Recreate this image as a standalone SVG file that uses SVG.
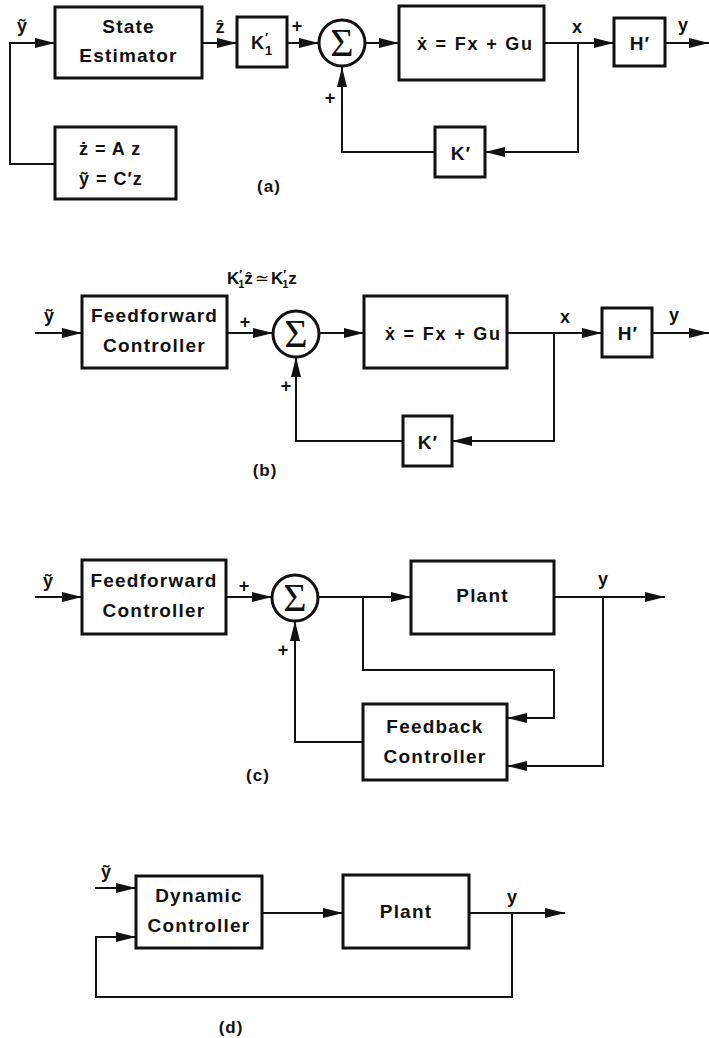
<svg xmlns="http://www.w3.org/2000/svg" width="709" height="1038" viewBox="0 0 709 1038">
<style>
text{font-family:"Liberation Sans",Arial,"DejaVu Sans",sans-serif;font-weight:bold;fill:#111}
.lbl{font-size:19px;letter-spacing:1.2px;text-anchor:middle}
.m{font-size:18px}
.mid{text-anchor:middle}
.sm{font-size:13px}
.box{fill:#fff;stroke:#111;stroke-width:3}
.sum{fill:#fff;stroke:#111;stroke-width:3}
.sig{font-family:"Liberation Serif","Times New Roman",serif;font-weight:normal;font-size:40px;text-anchor:middle}
.cap{font-size:17px;text-anchor:middle;letter-spacing:1px}
#connectors path{fill:none;stroke:#111;stroke-width:2}
</style>
<defs>
<marker id="arr" markerUnits="userSpaceOnUse" markerWidth="21" markerHeight="11" refX="20" refY="5.5" orient="auto">
<path d="M0,0.5 L20,5.5 L0,10.5 Z" fill="#111"/>
</marker>
</defs>
<g id="connectors">
<!-- (a) -->
<path d="M55,164 H10 V43 H55" marker-end="url(#arr)"/>
<path d="M202,43 H237" marker-end="url(#arr)"/>
<path d="M287,43 H319" marker-end="url(#arr)"/>
<path d="M365,43 H399" marker-end="url(#arr)"/>
<path d="M544,43 H614" marker-end="url(#arr)"/>
<path d="M665,43 H709" marker-end="url(#arr)"/>
<path d="M578,43 V152 H485" marker-end="url(#arr)"/>
<path d="M435,152 H342 V67" marker-end="url(#arr)"/>
<!-- (b) -->
<path d="M35,333 H82" marker-end="url(#arr)"/>
<path d="M227,333 H273" marker-end="url(#arr)"/>
<path d="M319,333 H364" marker-end="url(#arr)"/>
<path d="M507,333 H602" marker-end="url(#arr)"/>
<path d="M652,333 H709" marker-end="url(#arr)"/>
<path d="M554,333 V441 H452" marker-end="url(#arr)"/>
<path d="M403,441 H296 V357" marker-end="url(#arr)"/>
<!-- (c) -->
<path d="M35,597 H82" marker-end="url(#arr)"/>
<path d="M226,597 H272" marker-end="url(#arr)"/>
<path d="M318,597 H411" marker-end="url(#arr)"/>
<path d="M554,597 H665" marker-end="url(#arr)"/>
<path d="M363,597 V670 H554 V718 H507" marker-end="url(#arr)"/>
<path d="M603,597 V766 H507" marker-end="url(#arr)"/>
<path d="M363,742 H295 V621" marker-end="url(#arr)"/>
<!-- (d) -->
<path d="M95,888 H136" marker-end="url(#arr)"/>
<path d="M512,913 V997 H96 V937 H136" marker-end="url(#arr)"/>
<path d="M262,913 H343" marker-end="url(#arr)"/>
<path d="M469,913 H565" marker-end="url(#arr)"/>
</g>

<!-- ========== (a) ========== -->
<g id="a-state-estimator">
<rect class="box" x="55" y="7" width="147" height="71"/>
<text class="lbl" x="128.5" y="33">State</text>
<text class="lbl" x="128.5" y="62">Estimator</text>
</g>
<g id="a-model">
<rect class="box" x="55" y="127" width="121" height="72"/>
<text class="m" x="79" y="155" letter-spacing="1">ż = A z</text>
<text class="m" x="79" y="185" letter-spacing="1">ỹ = C′z</text>
</g>
<g id="a-K1">
<rect class="box" x="237" y="17" width="50" height="50"/>
<text class="m" x="251" y="49" font-size="19">K</text>
<text class="sm" x="265" y="42">′</text>
<text class="sm" x="265" y="55">1</text>
</g>
<g id="a-sum">
<circle class="sum" cx="342" cy="43" r="23"/>
<text class="sig" x="342" y="56">Σ</text>
</g>
<g id="a-plant">
<rect class="box" x="399" y="6" width="145" height="74"/>
<text class="m" x="417" y="50" font-size="18" letter-spacing="1.8">ẋ =  Fx + Gu</text>
</g>
<g id="a-H">
<rect class="box" x="614" y="18" width="51" height="48"/>
<text class="lbl" x="640" y="50">H′</text>
</g>
<g id="a-K">
<rect class="box" x="435" y="127" width="50" height="50"/>
<text class="lbl" x="461" y="160">K′</text>
</g>
<g id="a-labels">
<text class="m mid" x="22" y="32">ỹ</text>
<text class="m mid" x="220" y="33">ẑ</text>
<text class="m mid" x="297" y="32">+</text>
<text class="m mid" x="330" y="104">+</text>
<text class="m mid" x="577" y="33">x</text>
<text class="m mid" x="683" y="31">y</text>
<text class="cap" x="269" y="192">(a)</text>
</g>

<!-- ========== (b) ========== -->
<g id="b-feedforward">
<rect class="box" x="82" y="296" width="145" height="72"/>
<text class="lbl" x="154.5" y="322">Feedforward</text>
<text class="lbl" x="154.5" y="352">Controller</text>
</g>
<g id="b-sum">
<circle class="sum" cx="296" cy="334" r="23"/>
<text class="sig" x="296" y="347">Σ</text>
</g>
<g id="b-plant">
<rect class="box" x="364" y="296" width="143" height="72"/>
<text class="m" x="385" y="340" font-size="18" letter-spacing="1.8">ẋ =  Fx + Gu</text>
</g>
<g id="b-H">
<rect class="box" x="602" y="308" width="50" height="49"/>
<text class="lbl" x="628" y="340">H′</text>
</g>
<g id="b-K">
<rect class="box" x="403" y="416" width="49" height="50"/>
<text class="lbl" x="428" y="449">K′</text>
</g>
<g id="b-labels">
<text x="227" y="284" font-size="17">K<tspan font-size="12" dy="-5">′</tspan><tspan font-size="11" dx="-4" dy="9">1</tspan><tspan dy="-4">ẑ</tspan><tspan font-weight="normal" dx="2">≃</tspan><tspan dx="2">K</tspan><tspan font-size="12" dy="-5">′</tspan><tspan font-size="11" dx="-4" dy="9">1</tspan><tspan dy="-4">z</tspan></text>
<text class="m mid" x="49" y="322">ỹ</text>
<text class="m mid" x="245" y="328">+</text>
<text class="m mid" x="286" y="392">+</text>
<text class="m mid" x="565" y="323">x</text>
<text class="m mid" x="674" y="321">y</text>
<text class="cap" x="265" y="476">(b)</text>
</g>

<!-- ========== (c) ========== -->
<g id="c-feedforward">
<rect class="box" x="82" y="560" width="144" height="74"/>
<text class="lbl" x="154" y="587">Feedforward</text>
<text class="lbl" x="154" y="617">Controller</text>
</g>
<g id="c-sum">
<circle class="sum" cx="295" cy="598" r="23"/>
<text class="sig" x="295" y="611">Σ</text>
</g>
<g id="c-plant">
<rect class="box" x="411" y="561" width="143" height="73"/>
<text class="lbl" x="482.5" y="602">Plant</text>
</g>
<g id="c-feedback">
<rect class="box" x="363" y="704" width="144" height="76"/>
<text class="lbl" x="435" y="733">Feedback</text>
<text class="lbl" x="435" y="763">Controller</text>
</g>
<g id="c-labels">
<text class="m mid" x="48" y="587">ỹ</text>
<text class="m mid" x="244" y="592">+</text>
<text class="m mid" x="283" y="656">+</text>
<text class="m mid" x="603" y="585">y</text>
<text class="cap" x="258" y="781">(c)</text>
</g>

<!-- ========== (d) ========== -->
<g id="d-controller">
<rect class="box" x="136" y="876" width="126" height="72"/>
<text class="lbl" x="199" y="902">Dynamic</text>
<text class="lbl" x="199" y="932">Controller</text>
</g>
<g id="d-plant">
<rect class="box" x="343" y="875" width="126" height="73"/>
<text class="lbl" x="406" y="918">Plant</text>
</g>
<g id="d-labels">
<text class="m mid" x="106" y="878">ỹ</text>
<text class="m mid" x="512" y="903">y</text>
<text class="cap" x="231" y="1033">(d)</text>
</g>
</svg>
